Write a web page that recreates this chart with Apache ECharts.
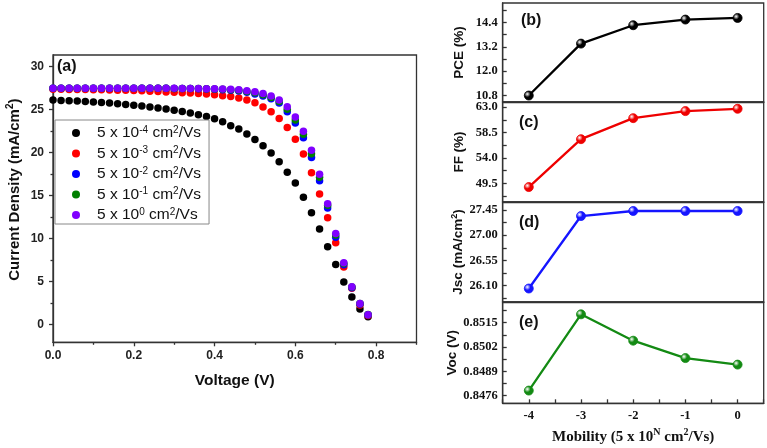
<!DOCTYPE html>
<html><head><meta charset="utf-8">
<script src="https://cdn.jsdelivr.net/npm/echarts@6/dist/echarts.min.js"></script>
<style>html,body{margin:0;padding:0;background:#fff}#c{width:767px;height:448px}</style>
</head><body><div id="c"></div>
<script>
// ---------- data ----------
const voltage = [0.00,0.02,0.04,0.06,0.08,0.10,0.12,0.14,0.16,0.18,0.20,0.22,0.24,0.26,0.28,0.30,0.32,0.34,0.36,0.38,
                 0.40,0.42,0.44,0.46,0.48,0.50,0.52,0.54,0.56,0.58,0.60,0.62,0.64,0.66,0.68,0.70,0.72,0.74,0.76,0.78];
const jE4 = [26.07,26.03,25.99,25.95,25.90,25.85,25.79,25.72,25.65,25.57,25.48,25.38,25.27,25.15,25.02,24.88,24.73,24.56,24.37,24.15,
             23.90,23.55,23.10,22.70,22.12,21.50,20.77,19.92,18.91,17.70,16.45,14.80,13.00,11.10,9.05,7.00,4.97,3.22,1.82,0.93];
const jE3 = [27.33,27.32,27.31,27.30,27.29,27.28,27.26,27.24,27.22,27.20,27.17,27.14,27.10,27.06,27.02,26.98,26.93,26.88,26.82,26.76,
             26.68,26.58,26.47,26.30,26.08,25.75,25.28,24.72,23.92,22.88,21.52,19.80,17.65,15.18,12.40,9.50,6.70,4.22,2.28,1.08];
const jE2 = [27.45,27.45,27.45,27.45,27.45,27.45,27.45,27.45,27.45,27.45,27.45,27.44,27.44,27.43,27.43,27.42,27.41,27.40,27.38,27.36,
             27.33,27.28,27.22,27.12,26.98,26.78,26.55,26.22,25.72,24.70,23.40,21.70,19.40,16.70,13.55,10.15,6.95,4.28,2.40,1.15];
const jE1 = [27.45,27.45,27.45,27.45,27.45,27.45,27.45,27.45,27.45,27.45,27.45,27.44,27.44,27.44,27.43,27.42,27.42,27.41,27.40,27.38,
             27.36,27.33,27.28,27.20,27.07,26.92,26.70,26.38,25.90,25.00,23.75,22.10,19.85,17.10,13.85,10.40,7.10,4.38,2.45,1.18];
const jE0 = [27.45,27.45,27.45,27.45,27.45,27.45,27.45,27.45,27.45,27.45,27.45,27.44,27.44,27.44,27.43,27.43,27.42,27.41,27.40,27.39,
             27.38,27.36,27.33,27.27,27.16,27.03,26.84,26.53,26.07,25.29,24.10,22.45,20.25,17.45,14.05,10.58,7.20,4.40,2.45,1.15];
const legendExp = ['-4','-3','-2','-1','0'];
const mobility = [-4,-3,-2,-1,0];
const pce = [10.79,13.36,14.27,14.55,14.63];
const ff  = [48.84,57.32,61.04,62.29,62.70];
const jsc = [26.05,27.34,27.43,27.43,27.43];
const voc = [0.84787,0.85195,0.85054,0.84961,0.84926];
const vTicks = [0,0.2,0.4,0.6,0.8], vMinor = [0.1,0.3,0.5,0.7,0.9];
const jTicks = [0,5,10,15,20,25,30], jMinor = [2.5,7.5,12.5,17.5,22.5,27.5];
const mTicks = [-4,-3,-2,-1,0], mMinor = [-4.5,-3.5,-2.5,-1.5,-0.5,0.5];
const pceTicks = [10.8,12.0,13.2,14.4], pceMinor = [11.4,12.6,13.8,15.0];
const ffTicks = [49.5,54.0,58.5,63.0], ffMinor = [47.25,51.75,56.25,60.75];
const jscTicks = [26.10,26.55,27.00,27.45], jscMinor = [25.875,26.325,26.775,27.225];
const vocTicks = [0.8476,0.8489,0.8502,0.8515], vocMinor = [0.84825,0.84955,0.85085,0.85215];

// ---------- styles ----------
const SANS = 'Liberation Sans, Arial, sans-serif';
const SERIF = 'Liberation Serif, Times New Roman, serif';
const lineC = '#333';
const curveColors = ['#000000','#ff0000','#0000ff','#008000','#8000ff'];
const curves = [jE4,jE3,jE2,jE1,jE0];
const legendNames = legendExp.map(e => '5 x 10^' + e + ' cm2/Vs');

function ball(c){
  return {type:'radial',x:0.35,y:0.35,r:0.7,colorStops:[{offset:0,color:'#ffffff'},{offset:0.45,color:c},{offset:1,color:c}]};
}

const grids = [
  {left:53, top:55, width:363.5, height:287.3},
  {left:502.7, top:3, width:261, height:99},
  {left:502.7, top:102, width:261, height:100},
  {left:502.7, top:202, width:261, height:100},
  {left:502.7, top:302, width:261, height:101.3}
].map(g => Object.assign({show:true, borderColor:lineC, borderWidth:1.3, backgroundColor:'transparent'}, g));

const xAxes = [
  {gridIndex:0, type:'value', position:'bottom', min:0, max:0.9,
   axisLine:{show:true,onZero:false,lineStyle:{color:lineC,width:1.3}},
   axisTick:{show:true,length:4,customValues:vTicks,lineStyle:{color:lineC,width:1.3}},
   axisLabel:{customValues:vTicks, formatter:v=>v.toFixed(1), fontFamily:SANS, fontWeight:'bold', fontSize:12, color:'#222', margin:7},
   splitLine:{show:false},
   name:'Voltage (V)', nameLocation:'middle', nameGap:30,
   nameTextStyle:{fontFamily:SANS, fontWeight:'bold', fontSize:15.5, color:'#111'}},
  {gridIndex:0, type:'value', position:'bottom', min:0, max:0.9,
   axisLine:{show:false,onZero:false}, axisTick:{show:true,length:2.5,customValues:vMinor,lineStyle:{color:lineC,width:1.3}},
   axisLabel:{show:false}, splitLine:{show:false}}
];
for (let i=1;i<=4;i++){
  xAxes.push({gridIndex:i, type:'value', position:'bottom', min:-4.5, max:0.5,
    axisLine:{show:true,onZero:false,lineStyle:{color:lineC,width:1.3}},
    axisTick:{show:i===4, inside:true, length:4, customValues:mTicks.concat(mMinor), lineStyle:{color:lineC,width:1.3}},
    axisLabel:{show:i===4, customValues:mTicks, fontFamily:SERIF, fontWeight:'bold', fontSize:12.5, color:'#111', margin:6},
    splitLine:{show:false},
    name: i===4 ? '{n|Mobility (5 x 10}{sup|N}{n| cm}{sup|2}{n|/Vs)}' : '',
    nameLocation:'middle', nameGap:24,
    nameTextStyle:{fontFamily:SERIF, fontWeight:'bold', fontSize:15, color:'#111',
      rich:{n:{fontFamily:SERIF, fontWeight:'bold', fontSize:15, lineHeight:20, color:'#111'},
            sup:{fontFamily:SERIF, fontWeight:'bold', fontSize:10, verticalAlign:'top', lineHeight:11, color:'#111'}}}
  });
}

const yAxes = [
  {gridIndex:0, type:'value', position:'left', min:-2.04, max:31.3,
   axisLine:{show:true,onZero:false,lineStyle:{color:lineC,width:1.3}},
   axisTick:{show:true,length:4,customValues:jTicks,lineStyle:{color:lineC,width:1.3}},
   axisLabel:{customValues:jTicks, fontFamily:SANS, fontWeight:'bold', fontSize:12, color:'#222', margin:9},
   splitLine:{show:false},
   name:'{n|Current Density (mA/cm}{sup|2}{n|)}', nameLocation:'middle', nameGap:29, nameRotate:90,
   nameTextStyle:{fontFamily:SANS, fontWeight:'bold', fontSize:15, color:'#111', padding:[0,0,0,18],
     rich:{n:{fontFamily:SANS, fontWeight:'bold', fontSize:15, lineHeight:19, color:'#111'},
           sup:{fontFamily:SANS, fontWeight:'bold', fontSize:10, verticalAlign:'top', lineHeight:10, color:'#111'}}}},
  {gridIndex:0, type:'value', position:'left', min:-2.04, max:31.3,
   axisLine:{show:false,onZero:false}, axisTick:{show:true,length:2.5,customValues:jMinor,lineStyle:{color:lineC,width:1.3}},
   axisLabel:{show:false}, splitLine:{show:false}}
];
function rightY(idx,min,max,ticks,minor,dec,name,pad){
  return {gridIndex:idx, type:'value', position:'left', min:min, max:max,
    axisLine:{show:true,onZero:false,lineStyle:{color:lineC,width:1.3}},
    axisTick:{show:true, inside:true, length:4, customValues:ticks.concat(minor), lineStyle:{color:lineC,width:1.3}},
    axisLabel:{customValues:ticks, formatter:v=>v.toFixed(dec), fontFamily:SERIF, fontWeight:'bold', fontSize:12.5, color:'#111', margin:5},
    splitLine:{show:false},
    name:name, nameLocation:'middle', nameRotate:90, nameGap:36,
    nameTextStyle:{fontFamily:SANS, fontWeight:'bold', fontSize:13.5, color:'#111', padding:pad,
      rich:{n:{fontFamily:SANS, fontWeight:'bold', fontSize:13.5, lineHeight:17, color:'#111'},
            sup:{fontFamily:SANS, fontWeight:'bold', fontSize:9, verticalAlign:'top', lineHeight:9, color:'#111'}}}};
}
yAxes.push(rightY(1,10.47,15.37,pceTicks,pceMinor,1,'PCE (%)',[0,0,0,0]));
yAxes.push(rightY(2,46.2,63.9,ffTicks,ffMinor,1,'FF (%)',[0,0,0,0]));
yAxes.push(rightY(3,25.81,27.59,jscTicks,jscMinor,2,'{n|Jsc (mA/cm}{sup|2}{n|)}',[0,0,0,0]));
yAxes.push(rightY(4,0.84719,0.85261,vocTicks,vocMinor,4,'Voc (V)',[0,0,0,0]));

const series = [];
curves.forEach((arr,k)=>{
  series.push({type:'scatter', name:legendNames[k], xAxisIndex:0, yAxisIndex:0,
    symbol:'circle', symbolSize:7.5, itemStyle:{color:curveColors[k], opacity:1},
    data: voltage.map((v,i)=>[v,arr[i]]), z:2+k});
});
const panelColors = ['#000000','#ee0000','#1515ff','#138a13'];
[pce,ff,jsc,voc].forEach((arr,k)=>{
  series.push({type:'line', xAxisIndex:k+2, yAxisIndex:k+2,
    symbol:'circle', symbolSize:9, showSymbol:true,
    lineStyle:{color:panelColors[k], width:2.3},
    itemStyle:{color:ball(panelColors[k]), borderColor:panelColors[k], borderWidth:0.8},
    data: mobility.map((m,i)=>[m,arr[i]]), z:3});
});

const option = {
  backgroundColor:'#fff',
  animation:false,
  grid:grids, xAxis:xAxes, yAxis:yAxes, series:series,
  legend:{
    left:55, top:120, orient:'vertical', data:legendNames,
    itemWidth:32, itemHeight:8, itemGap:4.5, icon:'circle',
    padding:[5,8,1,17], borderColor:'#888', borderWidth:1, backgroundColor:'#fff',
    textStyle:{fontFamily:SANS, fontSize:15.5, color:'#111', lineHeight:16,
      rich:{n:{fontFamily:SANS,fontSize:15.5,lineHeight:16,color:'#111'},
            sup:{fontFamily:SANS,fontSize:10,lineHeight:10,verticalAlign:'top',color:'#111'}}},
    formatter: function(name){
      const k = legendNames.indexOf(name);
      return '{n|5 x 10}{sup|' + legendExp[k] + '}{n| cm}{sup|2}{n|/Vs}';
    }
  },
  graphic:[
    {type:'text', left:57, top:59, style:{text:'(a)', font:'bold 16px '+SANS, fill:'#111'}},
    {type:'text', left:521, top:13, style:{text:'(b)', font:'bold 16px '+SANS, fill:'#111'}},
    {type:'text', left:519, top:115, style:{text:'(c)', font:'bold 16px '+SANS, fill:'#111'}},
    {type:'text', left:519, top:215, style:{text:'(d)', font:'bold 16px '+SANS, fill:'#111'}},
    {type:'text', left:519, top:315, style:{text:'(e)', font:'bold 16px '+SANS, fill:'#111'}}
  ]
};
const chart = echarts.init(document.getElementById('c'), null, {renderer:'canvas'});
chart.setOption(option);
</script></body></html>
